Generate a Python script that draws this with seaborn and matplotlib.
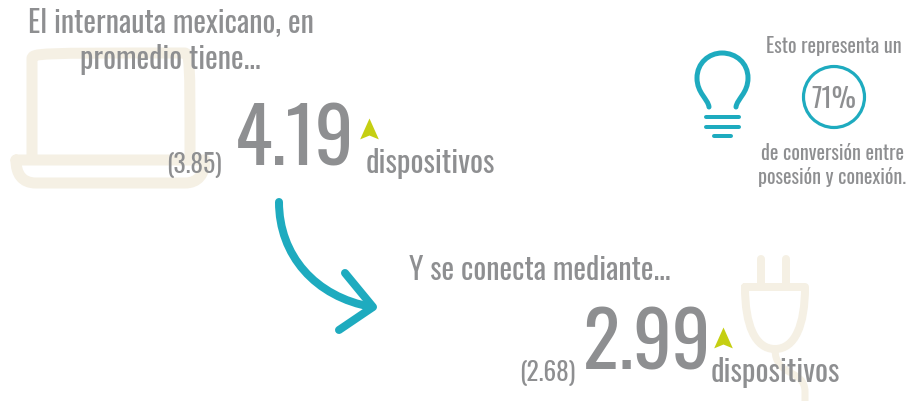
import numpy as np
import pandas as pd
import seaborn as sns
import matplotlib
matplotlib.use('Agg')
from matplotlib import pyplot as plt
from matplotlib.path import Path
from matplotlib.patches import PathPatch, Circle

# datos de la infografia
dispositivos_actual = [4.19, 2.99]
dispositivos_previo = [3.85, 2.68]
conversion = 71
unidad = 'dispositivos'
titulo_1 = ['El internauta mexicano, en', 'promedio tiene...']
titulo_2 = 'Y se conecta mediante...'
nota = ['Esto representa un', 'de conversión entre', 'posesión y conexión.']

GRIS = '#8e8f91'
CREMA = '#f5f0e4'
TEAL = '#1eabbf'
LIMA = '#c5cf12'

sns.set_theme(style='white')
plt.rcParams['font.family'] = ['Oswald', 'Liberation Sans', 'DejaVu Sans']
plt.rcParams['font.weight'] = 200

fig, ax = plt.subplots(figsize=(9.11, 4.01), dpi=100)
fig.subplots_adjust(0, 0, 1, 1)
ax.set_xlim(0, 911)
ax.set_ylim(401, 0)
ax.axis('off')

M, L, C = Path.MOVETO, Path.LINETO, Path.CURVE4


def trazo(verts, codes, color, px, z=1):
    ax.add_patch(PathPatch(Path(verts, codes), fc='none', ec=color, lw=px * 0.72,
                           capstyle='round', joinstyle='round', zorder=z))


def segmento(xs, ys, color, px, z=1):
    df = pd.DataFrame({'x': xs, 'y': ys})
    sns.lineplot(data=df, x='x', y='y', ax=ax, color=color, lw=px * 0.72, sort=False,
                 estimator=None, solid_capstyle='round', zorder=z, legend=False)


# laptop de fondo
trazo([(32, 158), (32, 59), (32, 53), (38, 53), (184, 53), (190, 53), (190, 59), (190, 158)],
      [M, L, C, C, L, C, C, L], CREMA, 11)
trazo([(16, 160), (205, 160), (205, 174), (198, 183), (185, 183), (36, 183), (22, 183), (16, 174), (16, 160)],
      [M, L, C, C, L, L, C, C, C], CREMA, 11)

# enchufe de fondo
segmento([761, 761], [259, 285], CREMA, 8)
segmento([786, 786], [259, 285], CREMA, 8)
trazo([(745, 287), (805, 287), (805, 325), (795, 349), (775, 349), (755, 349), (745, 325), (745, 287)],
      [M, L, C, C, C, C, C, L], CREMA, 8)
trazo([(775, 349), (775, 378), (805, 368), (805, 392), (805, 401)],
      [M, C, C, C, L], CREMA, 7)

# flecha
trazo([(279, 202), (279, 255), (315, 297), (372, 307)], [M, C, C, C], TEAL, 8, 2)
segmento([345, 373, 339], [273, 307, 330], TEAL, 8, 2)

# foco
trazo([(709, 107), (708, 99), (697, 93), (697, 78), (697, 63), (709, 53), (722, 53),
       (736, 53), (748, 63), (748, 78), (748, 93), (737, 99), (736, 107)],
      [M, C, C, C, C, C, C, C, C, C, C, C, C], TEAL, 5, 2)
for xs, y in [([706, 739], 117), ([706, 739], 127), ([714, 731], 136)]:
    segmento(xs, [y, y], TEAL, 4, 2)
ax.add_patch(Circle((834, 97), 30.5, fc='none', ec=TEAL, lw=2.3, zorder=2))

# flechas de aumento
punta = Path([(0, 1), (0.85, -0.9), (0, -0.55), (-0.85, -0.9), (0, 1)], [M, L, L, L, Path.CLOSEPOLY])
marcas = pd.DataFrame({'x': [368.5, 722.5], 'y': [129, 337.5]})
sns.scatterplot(data=marcas, x='x', y='y', ax=ax, marker=punta, s=250, color=LIMA,
                linewidth=0, zorder=3, legend=False)
ax.set_xlim(0, 911)
ax.set_ylim(401, 0)
ax.set_xlabel('')
ax.set_ylabel('')

# textos
ax.text(170.5, 33, titulo_1[0], fontsize=21.7, color=GRIS, ha='center', va='baseline', zorder=4)
ax.text(170, 69, titulo_1[1], fontsize=21.7, color=GRIS, ha='center', va='baseline', zorder=4)
ax.text(539.5, 280, titulo_2, fontsize=21.7, color=GRIS, ha='center', va='baseline', zorder=4)

ax.text(294.5, 166, f'{dispositivos_actual[0]:.2f}', fontsize=55.5, color=GRIS, ha='center', va='baseline', zorder=4)
ax.text(647, 370, f'{dispositivos_actual[1]:.2f}', fontsize=55.5, color=GRIS, ha='center', va='baseline', zorder=4)
ax.text(194, 173, f'({dispositivos_previo[0]:.2f})', fontsize=18.3, color=GRIS, ha='center', va='baseline', zorder=4)
ax.text(547.5, 381, f'({dispositivos_previo[1]:.2f})', fontsize=18.3, color=GRIS, ha='center', va='baseline', zorder=4)
ax.text(430, 173, unidad, fontsize=22, color=GRIS, ha='center', va='baseline', zorder=4)
ax.text(775, 382, unidad, fontsize=22, color=GRIS, ha='center', va='baseline', zorder=4)

ax.text(833.5, 53, nota[0], fontsize=14.5, color=GRIS, ha='center', va='baseline', zorder=4)
ax.text(832.5, 160, nota[1], fontsize=14.5, color=GRIS, ha='center', va='baseline', zorder=4)
ax.text(832.5, 184, nota[2], fontsize=14.5, color=GRIS, ha='center', va='baseline', zorder=4)
ax.text(834, 108, f'{conversion}%', fontsize=19.5, color=GRIS, ha='center', va='baseline', zorder=4)

plt.savefig('out.png', dpi=100)
